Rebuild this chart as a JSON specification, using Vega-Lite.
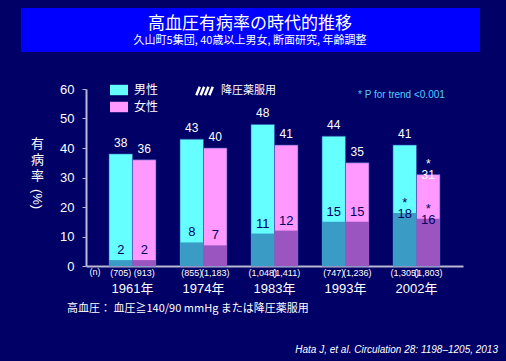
{
  "$schema": "https://vega.github.io/schema/vega-lite/v6.json",
  "width": 377,
  "height": 177,
  "autosize": {"type": "none"},
  "padding": {"left": 86, "top": 89, "right": 43, "bottom": 95},
  "background": "#000066",
  "config": {"view": {"stroke": null}, "font": "Liberation Sans, Noto Sans CJK JP", "axis": {"labelOverlap": false}},
  "data": {
    "values": [
      {"year": "1961年", "sex": "男性", "total": 38, "treated": 2, "n": "(705)", "top": "38", "inner": "2"},
      {"year": "1961年", "sex": "女性", "total": 36, "treated": 2, "n": "(913)", "top": "36", "inner": "2"},
      {"year": "1974年", "sex": "男性", "total": 43, "treated": 8, "n": "(855)", "top": "43", "inner": "8"},
      {"year": "1974年", "sex": "女性", "total": 40, "treated": 7, "n": "(1,183)", "top": "40", "inner": "7"},
      {"year": "1983年", "sex": "男性", "total": 48, "treated": 11, "n": "(1,048)", "top": "48", "inner": "11"},
      {"year": "1983年", "sex": "女性", "total": 41, "treated": 12, "n": "(1,411)", "top": "41", "inner": "12"},
      {"year": "1993年", "sex": "男性", "total": 44, "treated": 15, "n": "(747)", "top": "44", "inner": "15"},
      {"year": "1993年", "sex": "女性", "total": 35, "treated": 15, "n": "(1,236)", "top": "35", "inner": "15"},
      {"year": "2002年", "sex": "男性", "total": 41, "treated": 18, "n": "(1,305)", "top": "41", "inner": "*\n18"},
      {"year": "2002年", "sex": "女性", "total": 31, "treated": 16, "n": "(1,803)", "top": "*\n31", "inner": "*\n16"}
    ]
  },
  "encoding": {
    "x": {
      "field": "year", "type": "nominal", "sort": null,
      "scale": {"paddingInner": 0.338, "paddingOuter": 0.324},
      "axis": {
        "title": null, "labelAngle": 0, "labelColor": "white", "labelFontSize": 13,
        "labelPadding": 16, "ticks": false, "domainColor": "#B8B8D0", "domainWidth": 2,
        "labelFont": "Liberation Sans, Noto Sans CJK JP"
      }
    },
    "xOffset": {"field": "sex", "type": "nominal", "sort": ["男性", "女性"], "scale": {"domain": ["男性", "女性"], "paddingInner": 0, "paddingOuter": 0}},
    "y": {
      "field": "total", "type": "quantitative",
      "scale": {"domain": [0, 60], "nice": false},
      "axis": {
        "values": [0, 10, 20, 30, 40, 50, 60], "grid": false, "labelOverlap": false,
        "labelColor": "white", "labelFontSize": 13, "labelPadding": 8,
        "tickColor": "#B8B8D0", "tickSize": 4, "domainColor": "#B8B8D0", "domainWidth": 2,
        "title": ["有", "病", "率"], "titleAngle": 0, "titleColor": "white",
        "titleFont": "Noto Sans CJK JP", "titleFontSize": 13, "titleFontWeight": "normal",
        "titleLineHeight": 16, "titleX": -49, "titleY": 48, "titleAlign": "center", "titleBaseline": "top"
      }
    }
  },
  "layer": [
    {
      "mark": {"type": "bar", "stroke": "#3050B0", "strokeWidth": 0.6},
      "encoding": {
        "color": {
          "field": "sex", "type": "nominal",
          "scale": {"domain": ["男性", "女性"], "range": ["#66FFFF", "#FF99FF"]},
          "legend": {
            "title": null, "orient": "none", "legendX": 24, "legendY": -8,
            "symbolType": "M-1,-0.58H1V0.58H-1Z", "symbolSize": 324, "symbolStrokeWidth": 0,
            "symbolOpacity": 1,
            "labelColor": "white", "labelFontSize": 12, "labelFont": "Noto Sans CJK JP", "labelOffset": 6,
            "rowPadding": 2
          }
        }
      }
    },
    {
      "mark": {"type": "bar"},
      "encoding": {
        "y": {"field": "treated", "type": "quantitative"},
        "fill": {
          "field": "sex", "type": "nominal",
          "scale": {"domain": ["男性", "女性"], "range": ["#3A9CC4", "#9A55C0"]},
          "legend": null
        },
        "opacity": {
          "datum": "降圧薬服用", "type": "nominal",
          "scale": {"range": [1]},
          "legend": {
            "title": null, "orient": "none", "legendX": 109, "legendY": -8,
            "symbolType": "M-1,0.5L-0.6,-0.5M-0.5,0.5L-0.1,-0.5M0,0.5L0.4,-0.5M0.5,0.5L0.9,-0.5",
            "symbolSize": 300, "symbolStrokeColor": "white", "symbolStrokeWidth": 2.5, "symbolFillColor": "transparent",
            "labelColor": "white", "labelFontSize": 11, "labelFont": "Noto Sans CJK JP", "labelOffset": 6
          }
        }
      }
    },
    {
      "mark": {"type": "text", "color": "white", "baseline": "bottom", "dy": -4, "fontSize": 12, "lineBreak": "\n", "lineHeight": 11},
      "encoding": {
        "text": {"field": "top"}
      }
    },
    {
      "mark": {"type": "text", "color": "#000066", "baseline": "bottom", "dy": -3, "fontSize": 13, "lineBreak": "\n", "lineHeight": 11},
      "encoding": {
        "y": {"field": "treated", "type": "quantitative"},
        "text": {"field": "inner"}
      }
    },
    {
      "mark": {"type": "text", "color": "white", "baseline": "middle", "dy": 7, "fontSize": 9},
      "encoding": {
        "y": {"datum": 0, "type": "quantitative"},
        "text": {"field": "n"}
      }
    },
    {
      "data": {"values": [{"year": "1961年", "sex": "男性", "total": 0}]},
      "layer": [
        {"mark": {"type": "rect", "x": -65, "x2": 394, "y": -81, "y2": -37, "color": "#0000FF"}, "encoding": {"x": null, "xOffset": null, "y": null}},
        {"mark": {"type": "text", "x": 164, "y": -65, "text": "高血圧有病率の時代的推移", "color": "white", "fontSize": 17, "font": "Noto Sans CJK JP", "align": "center", "baseline": "middle"}, "encoding": {"x": null, "xOffset": null, "y": null}},
        {"mark": {"type": "text", "x": 164, "y": -48, "text": "久山町5集団, 40歳以上男女, 断面研究, 年齢調整", "color": "white", "fontSize": 11, "font": "Noto Sans CJK JP", "align": "center", "baseline": "middle"}, "encoding": {"x": null, "xOffset": null, "y": null}},
        {"mark": {"type": "text", "x": -49, "y": 110, "text": "(%)", "angle": 90, "color": "white", "fontSize": 13, "font": "Liberation Sans", "align": "center", "baseline": "middle"}, "encoding": {"x": null, "xOffset": null, "y": null}},
        {"mark": {"type": "text", "x": 9, "y": 183, "text": "(n)", "color": "white", "fontSize": 9, "align": "center", "baseline": "middle"}, "encoding": {"x": null, "xOffset": null, "y": null}},
        {"mark": {"type": "text", "x": 272, "y": 6, "text": "* P for trend <0.001", "color": "#55CCFF", "fontSize": 10, "align": "left", "baseline": "middle"}, "encoding": {"x": null, "xOffset": null, "y": null}},
        {"mark": {"type": "text", "x": -19, "y": 220, "text": "高血圧：  血圧≧140/90 mmHg または降圧薬服用", "color": "white", "fontSize": 11, "font": "Noto Sans CJK JP", "align": "left", "baseline": "middle"}, "encoding": {"x": null, "xOffset": null, "y": null}},
        {"mark": {"type": "text", "x": 412, "y": 261, "text": "Hata J, et al. Circulation 28: 1198–1205, 2013", "color": "white", "fontSize": 10, "fontStyle": "italic", "align": "right", "baseline": "middle"}, "encoding": {"x": null, "xOffset": null, "y": null}}
      ]
    }
  ]
}
